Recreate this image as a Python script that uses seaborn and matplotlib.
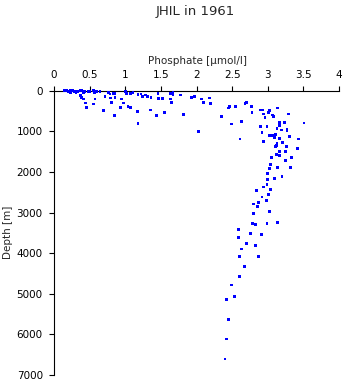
import matplotlib
matplotlib.use("Agg")
import matplotlib.pyplot as plt
import seaborn as sns
import pandas as pd

title = "JHIL in 1961"
x_label = "Phosphate [\u00b5mol/l]"
y_label = "Depth [m]"
x_ticks = [0, 0.5, 1, 1.5, 2, 2.5, 3, 3.5, 4]
x_tick_labels = ["0", "0.5", "1", "1.5", "2", "2.5", "3", "3.5", "4"]
y_ticks = [0, 1000, 2000, 3000, 4000, 5000, 6000, 7000]

phosphate = [
    0.145, 0.17, 0.20, 0.225, 0.235, 0.26, 0.285, 0.31, 0.33, 0.365, 0.39, 0.41, 0.43,
    0.375, 0.39, 0.41, 0.445, 0.46, 0.48, 0.505, 0.55, 0.565, 0.575, 0.55, 0.60, 0.645,
    0.69, 0.715, 0.76, 0.785, 0.795, 0.81, 0.83, 0.845, 0.855, 0.855, 0.93, 0.95, 0.97,
    1.0, 1.02, 1.04, 1.07, 1.07, 1.11, 1.17, 1.18, 1.18,
    1.22, 1.24, 1.28, 1.31, 1.36, 1.46, 1.47, 1.52, 1.35, 1.44, 1.55, 1.63, 1.67, 1.67,
    1.64, 1.65, 1.78, 1.82, 1.93, 1.97, 2.07, 2.10, 2.18, 2.20, 2.35, 2.03,
    2.45, 2.46, 2.55, 2.68, 2.70, 2.77, 2.78, 2.49, 2.63, 2.61, 2.89, 2.93, 2.94, 2.96,
    3.01, 3.02, 3.07, 3.08, 3.14, 3.16, 3.17, 3.19, 3.24, 3.27, 3.27, 3.29, 3.30, 2.90,
    2.92, 2.99, 3.03, 3.07, 3.10, 3.11, 3.13, 3.17, 3.21, 3.43, 3.51, 2.94, 3.13,
    3.12, 3.11, 3.26, 3.25, 3.16, 3.12, 3.16, 3.42, 3.33, 3.25, 3.05, 3.04, 3.02, 3.14,
    3.32, 3.00, 3.00, 3.09, 3.20, 2.99, 2.94, 3.04, 3.01, 2.84, 2.92, 2.98, 2.87, 2.80,
    2.86, 3.02, 2.80, 2.79, 2.83, 2.99, 3.14, 2.59, 2.91, 2.76, 2.59, 2.70, 2.83, 2.63,
    2.60, 2.87, 2.67, 2.60, 2.49, 2.53, 2.42, 2.45, 2.42, 2.40,
]
depth = [
    0, 0, 15, 0, 57, 0, 15, 40, 15, 0, 0, 40, 15,
    120, 165, 205, 305, 410, 15, 15, 0, 40, 205, 330, 15, 15,
    495, 140, 40, 80, 180, 290, 65, 615, 165, 65, 410, 205, 305,
    15, 65, 395, 410, 65, 40, 520, 100, 805,
    80, 140, 105, 140, 165, 65, 190, 190, 475, 615, 535, 65, 40, 100,
    205, 290, 105, 590, 165, 150, 205, 290, 180, 310, 640, 1000,
    425, 395, 395, 310, 285, 385, 535, 820, 755, 1190, 475, 475, 575, 655,
    535, 495, 600, 630, 425, 780, 865, 970, 780, 945, 990, 575, 1135, 890,
    1030, 890, 1110, 1110, 1150, 1085, 1300, 1170, 1275, 1190, 795, 1250, 930,
    1340, 1380, 1365, 1490, 1490, 1570, 1590, 1430, 1645, 1710, 1645, 1810, 1925, 1900,
    1885, 2040, 2190, 2165, 2120, 2310, 2370, 2435, 2550, 2450, 2615, 2700, 2750, 2790,
    2855, 2970, 3020, 3275, 3285, 3275, 3250, 3420, 3545, 3520, 3620, 3770, 3820, 3895,
    4078, 4078, 4324, 4570, 4785, 5063, 5146, 5630, 6115, 6607,
]

df = pd.DataFrame({"phosphate": phosphate, "depth": depth})

sns.set_style("ticks")
plt.rcParams["font.family"] = ["DejaVu Sans"]

fig = plt.figure(figsize=(3.45, 3.84), dpi=100)
ax = fig.add_axes([54 / 345, 1 - 375 / 384, 285 / 345, (375 - 90.7) / 384])

sns.scatterplot(data=df, x="phosphate", y="depth", ax=ax, marker="s", s=4,
                color="#0000ff", linewidth=0, edgecolor="none", clip_on=False, zorder=3)

ax.set_xlim(0, 4)
ax.set_ylim(7000, 0)
ax.set_xticks(x_ticks)
ax.set_xticklabels(x_tick_labels)
ax.set_yticks(y_ticks)
ax.xaxis.tick_top()
ax.xaxis.set_label_position("top")
ax.spines["right"].set_visible(False)
ax.spines["bottom"].set_visible(False)
for sp in ("left", "top"):
    ax.spines[sp].set_linewidth(0.8)
    ax.spines[sp].set_color("black")
ax.tick_params(axis="both", direction="out", length=3.6, width=0.8, colors="black",
               labelsize=7.5)
ax.tick_params(axis="x", pad=4.0)
ax.tick_params(axis="y", pad=4.5)

ax.set_xlabel(x_label, fontsize=7.5)
ax.set_ylabel(y_label, fontsize=7.5)
ax.xaxis.set_label_coords(0.502, 1.106)
ax.yaxis.set_label_coords(-0.161, 0.503)
ax.xaxis.label.set_va("center")
ax.yaxis.label.set_va("center")

fig.text(195.5 / 345, 1 - 11 / 384, title, ha="center", va="center", fontsize=9.5)

fig.savefig("out.png", dpi=100)
